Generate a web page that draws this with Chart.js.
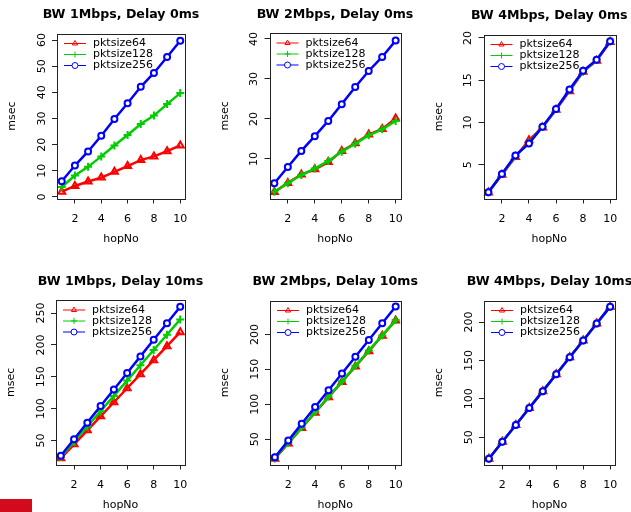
<!DOCTYPE html>
<html>
<head>
<meta charset="utf-8">
<script src="https://cdn.jsdelivr.net/npm/chart.js@4.4.1/dist/chart.umd.min.js"></script>
<style>
  html, body { margin: 0; padding: 0; background: #fff; }
  #page { position: relative; width: 631px; height: 512px; overflow: hidden; }
  #page canvas { position: absolute; left: 0; top: 0; }
  #mark { position: absolute; left: 0; top: 499px; width: 32px; height: 13px; background: #d20a1c; }
</style>
</head>
<body>
<div id="page">
  <canvas id="c0" width="631" height="512"></canvas>
  <canvas id="c1" width="631" height="512"></canvas>
  <canvas id="c2" width="631" height="512"></canvas>
  <canvas id="c3" width="631" height="512"></canvas>
  <canvas id="c4" width="631" height="512"></canvas>
  <canvas id="c5" width="631" height="512"></canvas>
  <div id="mark"></div>
</div>
<script>
var hopNo = [1, 2, 3, 4, 5, 6, 7, 8, 9, 10];
var xTicks = [2, 4, 6, 8, 10];
var xRange = [0.64, 10.36];
var seriesNames = ['pktsize64', 'pktsize128', 'pktsize256'];

// BW 1Mbps, Delay 0ms
var bw1d0_64 = [2.0, 4.2, 5.9, 7.4, 9.6, 11.8, 14.1, 15.5, 17.5, 19.7];
var bw1d0_128 = [3.8, 8.2, 11.5, 15.5, 19.7, 23.7, 27.9, 31.1, 35.5, 39.7];
var bw1d0_256 = [6.0, 12.0, 17.4, 23.4, 29.8, 35.8, 42.1, 47.4, 53.5, 59.7];
// BW 2Mbps, Delay 0ms
var bw2d0_64 = [1.7, 4.0, 6.1, 7.4, 9.2, 12.0, 13.9, 16.1, 17.5, 20.1];
var bw2d0_128 = [1.8, 3.9, 6.0, 7.6, 9.5, 11.8, 13.8, 15.9, 17.4, 19.5];
var bw2d0_256 = [3.9, 8.0, 12.0, 15.7, 19.5, 23.7, 28.0, 32.0, 35.5, 39.6];
// BW 4Mbps, Delay 0ms
var bw4d0_64 = [1.7, 3.8, 5.9, 7.9, 9.4, 11.5, 13.7, 16.0, 17.3, 19.5];
var bw4d0_128 = [1.75, 3.9, 6.0, 7.6, 9.5, 11.6, 13.85, 16.0, 17.4, 19.6];
var bw4d0_256 = [1.75, 3.9, 6.1, 7.5, 9.5, 11.6, 13.9, 16.1, 17.4, 19.6];
// BW 1Mbps, Delay 10ms
var bw1d10_64 = [22, 44, 66, 88, 110, 132, 154, 176, 198, 220];
var bw1d10_128 = [24, 48, 72, 96, 120, 144, 168, 192, 216, 240];
var bw1d10_256 = [26, 52, 78, 104, 130, 156, 182, 208, 234, 260];
// BW 2Mbps, Delay 10ms
var bw2d10_64 = [22, 44, 66, 88, 110, 132, 154, 176, 198, 220];
var bw2d10_128 = [22.5, 45, 67, 89, 111, 133, 155, 177, 198.5, 220.5];
var bw2d10_256 = [24, 48, 72, 96, 120, 144, 168, 192, 216, 240];
// BW 4Mbps, Delay 10ms
var bw4d10_64 = [22, 44, 66, 88, 110, 132, 154, 176, 198, 220];
var bw4d10_128 = [22, 44, 66, 88, 110, 132, 154, 176, 198, 220];
var bw4d10_256 = [22, 44, 66, 88, 110, 132, 154, 176, 198, 220];

var titles = [
  'BW 1Mbps, Delay 0ms', 'BW 2Mbps, Delay 0ms', 'BW 4Mbps, Delay 0ms',
  'BW 1Mbps, Delay 10ms', 'BW 2Mbps, Delay 10ms', 'BW 4Mbps, Delay 10ms'
];
var yLimits = [[-0.6, 62.5], [0.1, 41.5], [1.0, 20.4], [12.3, 270.5], [13.8, 248.5], [14.5, 228]];
var yTicks = [
  [0, 10, 20, 30, 40, 50, 60], [10, 20, 30, 40], [5, 10, 15, 20],
  [50, 100, 150, 200, 250], [50, 100, 150, 200], [50, 100, 150, 200]
];
var panelSeries = [
  [bw1d0_64, bw1d0_128, bw1d0_256], [bw2d0_64, bw2d0_128, bw2d0_256], [bw4d0_64, bw4d0_128, bw4d0_256],
  [bw1d10_64, bw1d10_128, bw1d10_256], [bw2d10_64, bw2d10_128, bw2d10_256], [bw4d10_64, bw4d10_128, bw4d10_256]
];

// plot frames on the page: left, top, right, bottom
var frames = [
  [57, 33.5, 185, 198.5], [269.5, 33, 400.5, 198.5], [483.5, 34.5, 615, 198.5],
  [56, 300, 185, 464.5], [270, 300.5, 400.5, 464.5], [484, 300.5, 615, 464.5]
];
var yAxisW = 51, xAxisH = 47;

var colors = ['#ff0000', '#00cd00', '#0000ff'];
var marks = ['triangle', 'cross', 'circle'];
var markSize = [4, 4, 3];
var fills = ['rgba(0,0,0,0)', 'rgba(0,0,0,0)', '#ffffff'];

Chart.defaults.font.family = '"DejaVu Sans", sans-serif';
Chart.defaults.font.size = 11;
Chart.defaults.color = '#000';

// box, title, parallel y labels and the legend, drawn R-style
var rFrame = {
  id: 'rFrame',
  afterDraw: function (chart, args, opts) {
    var ctx = chart.ctx, a = chart.chartArea, ys = chart.scales.y;
    ctx.save();
    ctx.strokeStyle = '#222';
    ctx.lineWidth = 1;
    ctx.strokeRect(Math.round(a.left) + 0.5, Math.round(a.top) + 0.5,
      Math.round(a.right - a.left), Math.round(a.bottom - a.top));

    ctx.fillStyle = '#000';
    ctx.textAlign = 'center';
    ctx.textBaseline = 'middle';
    ctx.font = 'bold 12.6px "DejaVu Sans"';
    ctx.fillText(opts.title, (a.left + a.right) / 2, a.top - 18.5);

    ctx.font = '11px "DejaVu Sans"';
    opts.yTicks.forEach(function (v) {
      ctx.save();
      ctx.translate(a.left - 15, ys.getPixelForValue(v));
      ctx.rotate(-Math.PI / 2);
      ctx.fillText(String(v), 0, 0);
      ctx.restore();
    });

    ctx.textAlign = 'left';
    chart.data.datasets.forEach(function (ds, k) {
      var ly = a.top + 10 + k * 11;
      ctx.strokeStyle = ds.borderColor;
      ctx.lineWidth = 1;
      ctx.beginPath();
      ctx.moveTo(a.left + 7, ly);
      ctx.lineTo(a.left + 29, ly);
      ctx.stroke();
      ctx.fillStyle = ds.pointBackgroundColor;
      Chart.helpers.drawPoint(ctx, { pointStyle: ds.pointStyle, radius: 3, borderWidth: 1, rotation: 0 }, a.left + 18, ly);
      ctx.fillStyle = '#000';
      ctx.fillText(ds.label, a.left + 36, ly);
    });
    ctx.restore();
  }
};

function makePanel(i) {
  var f = frames[i];
  var datasets = panelSeries[i].map(function (vals, k) {
    return {
      label: seriesNames[k],
      data: hopNo.map(function (h, j) { return { x: h, y: vals[j] }; }),
      borderColor: colors[k],
      borderWidth: 2.5,
      pointStyle: marks[k],
      pointRadius: markSize[k],
      pointBorderWidth: 2,
      pointBorderColor: colors[k],
      pointBackgroundColor: fills[k],
      tension: 0,
      order: 3 - k
    };
  });
  var grid = { display: true, drawOnChartArea: false, drawTicks: true, tickLength: 5, color: '#222' };

  return new Chart(document.getElementById('c' + i), {
    type: 'line',
    data: { datasets: datasets },
    options: {
      responsive: false,
      animation: false,
      events: [],
      layout: {
        padding: { left: f[0] - yAxisW, top: f[1], right: 631 - f[2], bottom: 512 - f[3] - xAxisH }
      },
      plugins: {
        legend: { display: false },
        tooltip: { enabled: false },
        rFrame: { title: titles[i], yTicks: yTicks[i] }
      },
      scales: {
        x: {
          type: 'linear',
          min: xRange[0],
          max: xRange[1],
          afterBuildTicks: function (s) { s.ticks = xTicks.map(function (v) { return { value: v }; }); },
          afterFit: function (s) { s.height = xAxisH; },
          grid: grid,
          border: { display: false },
          ticks: { padding: 9, maxRotation: 0, autoSkip: false, color: '#000' },
          title: { display: true, text: 'hopNo', padding: 0, color: '#000' }
        },
        y: {
          type: 'linear',
          min: yLimits[i][0],
          max: yLimits[i][1],
          afterBuildTicks: function (s) { s.ticks = yTicks[i].map(function (v) { return { value: v }; }); },
          afterFit: function (s) { s.width = yAxisW; },
          grid: grid,
          border: { display: false },
          ticks: { display: false },
          title: { display: true, text: 'msec', padding: 0, color: '#000' }
        }
      }
    },
    plugins: [rFrame]
  });
}

for (var i = 0; i < 6; i++) {
  makePanel(i);
}
</script>
</body>
</html>
